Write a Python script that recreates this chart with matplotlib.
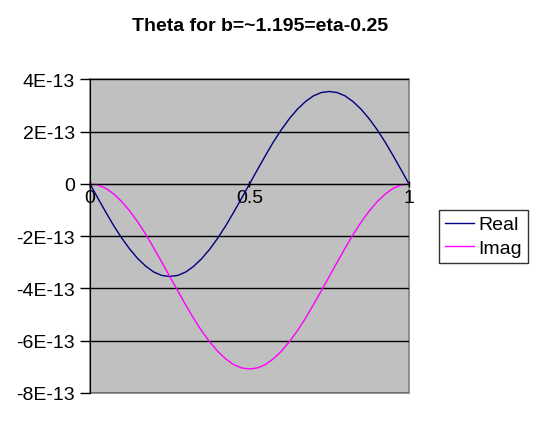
import matplotlib
matplotlib.use("Agg")
import matplotlib.pyplot as plt

plt.rcParams['font.family'] = ['Liberation Sans', 'DejaVu Sans']

# data (values in units of 1E-13)
x = [0.0, 0.025, 0.05, 0.075, 0.1, 0.125, 0.15, 0.175, 0.2, 0.225, 0.25,
     0.275, 0.3, 0.325, 0.35, 0.375, 0.4, 0.425, 0.45, 0.475, 0.5,
     0.525, 0.55, 0.575, 0.6, 0.625, 0.65, 0.675, 0.7, 0.725, 0.75,
     0.775, 0.8, 0.825, 0.85, 0.875, 0.9, 0.925, 0.95, 0.975, 1.0]
real = [0.0, -0.55, -1.09, -1.61, -2.08, -2.5, -2.86, -3.15, -3.37, -3.5, -3.54,
        -3.5, -3.37, -3.15, -2.86, -2.5, -2.08, -1.61, -1.09, -0.55, 0.0,
        0.55, 1.09, 1.61, 2.08, 2.5, 2.86, 3.15, 3.37, 3.5, 3.54,
        3.5, 3.37, 3.15, 2.86, 2.5, 2.08, 1.61, 1.09, 0.55, 0.0]
imag = [0.0, -0.04, -0.17, -0.39, -0.68, -1.04, -1.46, -1.93, -2.45, -2.99, -3.54,
        -4.09, -4.63, -5.15, -5.62, -6.04, -6.4, -6.69, -6.91, -7.04, -7.08,
        -7.04, -6.91, -6.69, -6.4, -6.04, -5.62, -5.15, -4.63, -4.09, -3.54,
        -2.99, -2.45, -1.93, -1.46, -1.04, -0.68, -0.39, -0.17, -0.04, 0.0]
scale = 1e-13
real = [v * scale for v in real]
imag = [v * scale for v in imag]

yticks = [4e-13, 2e-13, 0, -2e-13, -4e-13, -6e-13, -8e-13]
ylabels = ["4E-13", "2E-13", "0", "-2E-13", "-4E-13", "-6E-13", "-8E-13"]
xticks = [0, 0.5, 1]
xlabels = ["0", "0.5", "1"]

fig = plt.figure(figsize=(5.38, 4.27), dpi=100)
ax = fig.add_axes([0.1673, 0.0773, 0.5929, 0.7342])
ax.set_facecolor('#c0c0c0')
ax.patch.set_edgecolor('#808080')
ax.patch.set_linewidth(1.2)

ax.plot(x, real, color='#000080', lw=1, label='Real')
ax.plot(x, imag, color='#ff00ff', lw=1, label='Imag')

ax.set_xlim(0, 1)
ax.set_ylim(-8e-13, 4e-13)
ax.set_yticks(yticks)
ax.set_yticklabels(ylabels)
ax.set_xticks(xticks)
ax.set_xticklabels(xlabels)
ax.yaxis.grid(True, color='black', lw=1)
ax.set_axisbelow(True)

for s in ['top', 'right']:
    ax.spines[s].set_visible(False)
ax.spines['bottom'].set_position(('data', 0))
ax.spines['bottom'].set_color('black')
ax.spines['left'].set_color('black')

ax.tick_params(axis='y', direction='out', length=7, width=1, labelsize=14, pad=4)
ax.tick_params(axis='x', direction='inout', length=5, width=1, labelsize=14, pad=1)

fig.text(0.484, 0.938, 'Theta for b=~1.195=eta-0.25', fontsize=14,
         fontweight='bold', ha='center', va='center')

leg = ax.legend(loc='center left', bbox_to_anchor=(1.095, 0.5), fontsize=14,
                frameon=True, fancybox=False, edgecolor='black',
                borderpad=0.3, handlelength=1.5, handletextpad=0.2,
                labelspacing=0.3, borderaxespad=0)
leg.get_frame().set_linewidth(1)

fig.savefig('out.png', dpi=100)
